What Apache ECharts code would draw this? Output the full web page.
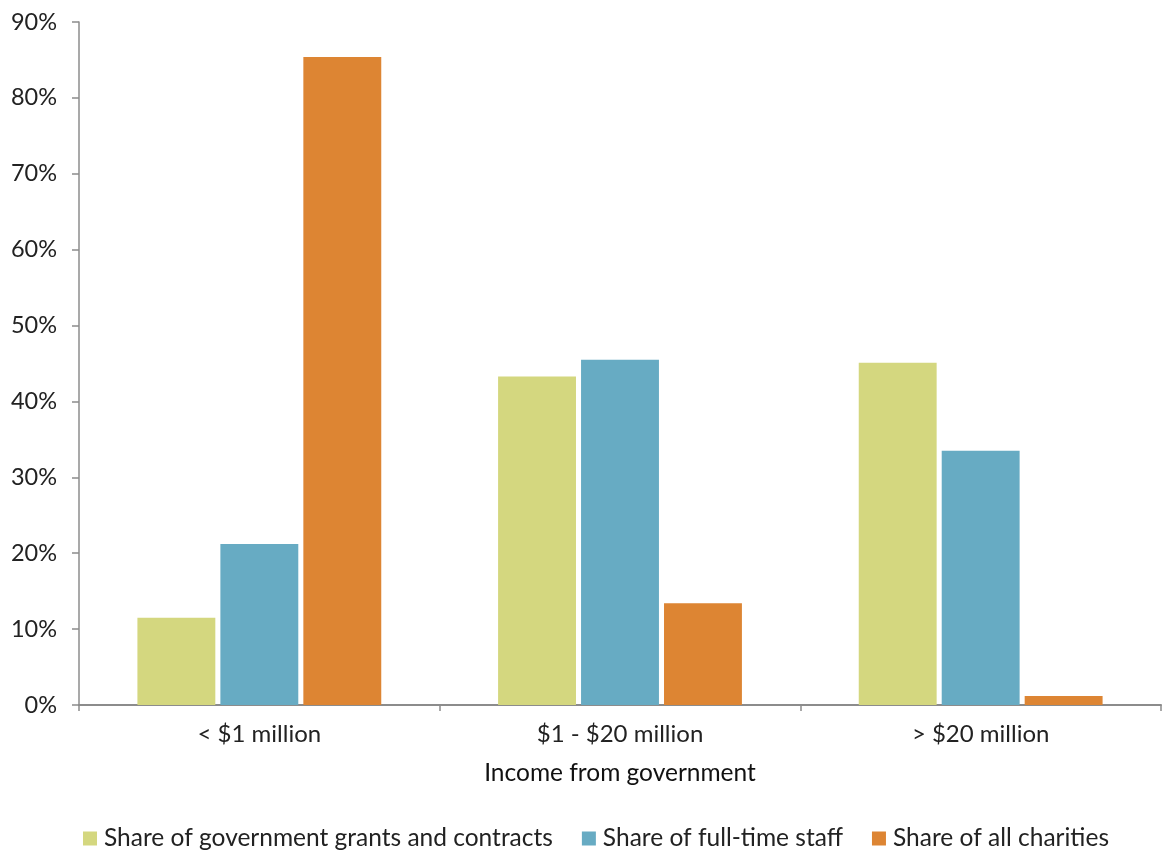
<!DOCTYPE html>
<html><head><meta charset="utf-8">
<script src="https://cdn.jsdelivr.net/npm/echarts@6/dist/echarts.min.js"></script>
<style>html,body{margin:0;padding:0;background:#fff}#c{width:1162px;height:852px}</style>
</head><body><div id="c"></div>
<script>
const categories = ['< $1 million', '$1 - $20 million', '> $20 million'];
const seriesNames = ['Share of government grants and contracts', 'Share of full-time staff', 'Share of all charities'];
const grantsShare = [11.5, 43.3, 45.1];
const staffShare = [21.2, 45.5, 33.5];
const charitiesShare = [85.4, 13.4, 1.2];
const colors = ['#d4d77f', '#67abc3', '#dd8533'];
const font = 'Lato, "Noto Sans", sans-serif';

const chart = echarts.init(document.getElementById('c'));
const mk = (name, data, color) => ({
  name, type: 'bar', data, barWidth: '21.6%', barGap: '6.5%',
  itemStyle: { color }
});
chart.setOption({
  animation: false,
  textStyle: { fontFamily: font },
  grid: { left: 79, right: 1, top: 22, bottom: 147, containLabel: false },
  legend: {
    bottom: -4, left: 78, itemWidth: 14, itemHeight: 14, itemGap: 29,
    icon: 'rect',
    textStyle: { fontSize: 24.5, color: '#222', fontFamily: font, padding: [0, 0, 0, 2] },
    data: seriesNames
  },
  xAxis: {
    type: 'category', data: categories,
    name: 'Income from government', nameLocation: 'middle', nameGap: 56,
    nameTextStyle: { fontSize: 24.5, color: '#111', fontFamily: font },
    axisLine: { lineStyle: { color: '#8c8c8c', width: 2 } },
    axisTick: { show: true, length: 6, lineStyle: { color: '#8c8c8c', width: 1.5 } },
    axisLabel: { fontSize: 24, color: '#222', margin: 17, fontFamily: font }
  },
  yAxis: {
    type: 'value', min: 0, max: 90, interval: 10,
    axisLine: { show: true, lineStyle: { color: '#8c8c8c', width: 1.5 } },
    axisTick: { show: true, length: 7, lineStyle: { color: '#8c8c8c', width: 1.5 } },
    splitLine: { show: false },
    axisLabel: { fontSize: 23.5, color: '#222', margin: 22, formatter: '{value}%', fontFamily: font }
  },
  series: [
    mk(seriesNames[0], grantsShare, colors[0]),
    mk(seriesNames[1], staffShare, colors[1]),
    mk(seriesNames[2], charitiesShare, colors[2])
  ]
});
</script></body></html>
